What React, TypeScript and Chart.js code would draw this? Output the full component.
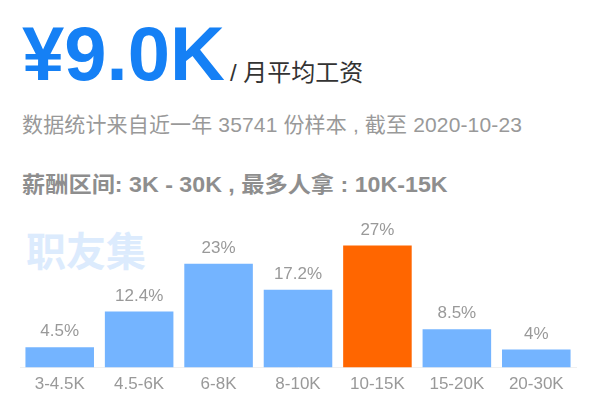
import React, { useEffect, useRef } from "react";
import { Chart, registerables } from "chart.js";

Chart.register(...registerables);

const categories = ["3-4.5K", "4.5-6K", "6-8K", "8-10K", "10-15K", "15-20K", "20-30K"];
const shares = [4.5, 12.4, 23, 17.2, 27, 8.5, 4];
const valueLabels = ["4.5%", "12.4%", "23%", "17.2%", "27%", "8.5%", "4%"];
const highlightIndex = 4;
const headline = "¥9.0K";
const headlineUnit = "/ 月平均工资";
const subtitle = "数据统计来自近一年 35741 份样本 , 截至 2020-10-23";
const summary = "薪酬区间: 3K - 30K , 最多人拿 : 10K-15K";
const watermark = "职友集";

const LATIN = '"Liberation Sans", Arial, "Noto Sans CJK SC", sans-serif';

const valueLabelPlugin = {
  id: "valueLabels",
  afterDatasetsDraw(chart: any) {
    const ctx = chart.ctx;
    const meta = chart.getDatasetMeta(0);
    ctx.save();
    ctx.font = `17px ${LATIN}`;
    ctx.fillStyle = "#999999";
    ctx.textAlign = "center";
    ctx.textBaseline = "alphabetic";
    meta.data.forEach((bar: any, i: number) => {
      ctx.fillText(valueLabels[i], bar.x, bar.y - 11);
    });
    ctx.restore();
  },
};

export default function App() {
  const ref = useRef<HTMLCanvasElement | null>(null);

  useEffect(() => {
    if (!ref.current) return;
    const chart = new Chart(ref.current, {
      type: "bar",
      data: {
        labels: categories,
        datasets: [
          {
            data: shares,
            backgroundColor: shares.map((_, i) => (i === highlightIndex ? "#ff6600" : "#74b4ff")),
            borderWidth: 0,
            categoryPercentage: 1,
            barPercentage: 0.863,
          },
        ],
      },
      options: {
        animation: false,
        responsive: false,
        maintainAspectRatio: false,
        layout: { padding: { left: 20, right: 24, top: 32, bottom: 8 } },
        plugins: { legend: { display: false }, tooltip: { enabled: false } },
        scales: {
          y: { display: false, min: 0, max: 30 },
          x: {
            grid: { display: false, drawTicks: false },
            border: { display: true, color: "#f0f0f0", width: 1 },
            ticks: {
              color: "#999999",
              padding: 7,
              font: { size: 17, family: LATIN },
              maxRotation: 0,
              autoSkip: false,
            },
          },
        },
      },
      plugins: [valueLabelPlugin],
    });
    return () => chart.destroy();
  }, []);

  return (
    <div
      style={{
        position: "fixed",
        left: 0,
        top: 0,
        width: 600,
        height: 400,
        background: "#ffffff",
        overflow: "hidden",
        fontFamily: LATIN,
      }}
    >
      <div
        style={{
          position: "absolute",
          left: 22,
          top: 9,
          fontSize: 76,
          fontWeight: "bold",
          color: "#1580f5",
          lineHeight: "90px",
          whiteSpace: "nowrap",
        }}
      >
        {headline}
      </div>
      <div
        style={{
          position: "absolute",
          left: 230,
          top: 57,
          fontSize: 24,
          color: "#333333",
          lineHeight: "32px",
          whiteSpace: "nowrap",
        }}
      >
        {headlineUnit}
      </div>
      <div
        style={{
          position: "absolute",
          left: 22,
          top: 110,
          fontSize: 21,
          color: "#999999",
          lineHeight: "30px",
          whiteSpace: "nowrap",
          letterSpacing: "0.15px",
        }}
      >
        {subtitle}
      </div>
      <div
        style={{
          position: "absolute",
          left: 22,
          top: 170,
          fontSize: 22,
          fontWeight: "bold",
          color: "#8e8e8e",
          lineHeight: "30px",
          whiteSpace: "nowrap",
          transform: "scaleX(1.055)",
          transformOrigin: "left center",
        }}
      >
        {summary}
      </div>
      <div
        style={{
          position: "absolute",
          left: 26,
          top: 224,
          fontSize: 40,
          fontWeight: "bold",
          color: "#dcebfd",
          lineHeight: "50px",
          whiteSpace: "nowrap",
          fontFamily: '"Noto Sans CJK SC", sans-serif',
        }}
      >
        {watermark}
      </div>
      <canvas
        ref={ref}
        width={600}
        height={210}
        style={{ position: "absolute", left: 0, top: 200, width: 600, height: 210 }}
      />
    </div>
  );
}
